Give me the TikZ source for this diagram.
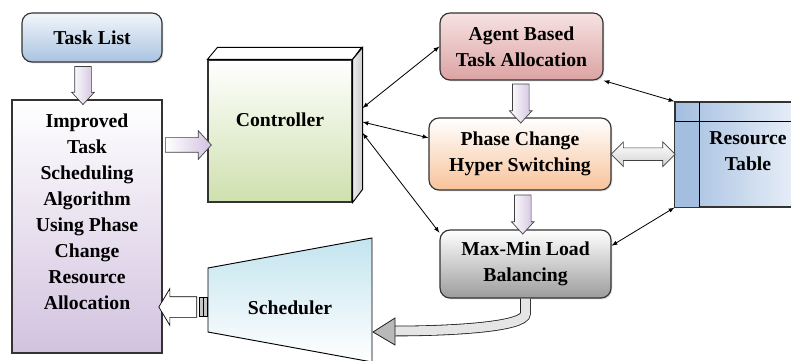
\documentclass[tikz,border=0pt]{standalone}
\usepackage{fontspec}
\setmainfont{Liberation Serif}
\usetikzlibrary{shapes.arrows,shadows,calc}
\definecolor{taskbot}{HTML}{A9C3E1}
\definecolor{lavender}{HTML}{D2C2DF}
\definecolor{ctrlbot}{HTML}{CFE0AE}
\definecolor{agenttop}{HTML}{F7E2E2}
\definecolor{agentbot}{HTML}{DCA3A3}
\definecolor{phasebot}{HTML}{F8C39A}
\definecolor{mmbot}{HTML}{9C9C9C}
\definecolor{schedtop}{HTML}{C3E4EF}
\definecolor{resleft}{HTML}{A3BEDF}
\definecolor{resright}{HTML}{E8EFF8}
\def\px{0.03cm}
\tikzset{
  lbl/.style={font=\bfseries\fontsize{16.8}{22.2}\selectfont, align=center, inner sep=0pt},
  blk/.style={lbl, draw=black!80, line width=1pt, drop shadow={opacity=0.25,shadow xshift=1.2pt,shadow yshift=-1.2pt}},
  rblk/.style={blk, rounded corners=10*\px},
  fat/.style={single arrow, draw=gray!50!black, line width=0.6pt, inner sep=0pt},
  fatlav/.style={fat, left color=white, right color=lavender},
  link/.style={<->, >=latex, line width=0.7pt},
  pipe/.style={double=gray!20, double distance=9*\px, line width=0.7pt, draw=gray!25!black}
}
\begin{document}
\begin{tikzpicture}[x=\px,y=\px]
  \useasboundingbox (0,0) rectangle (791,360);
  %% left column
  \node[rblk, top color=white!85!taskbot, bottom color=taskbot, minimum width=140*\px, minimum height=49*\px] (task) at (92,322.5) {Task List};
  \node[blk, top color=white, bottom color=lavender, minimum width=150*\px, minimum height=253*\px] (impr) at (87,133.5) {};
  \node[lbl] (imprtxt) at (87,148.5) {Improved\\Task\\Scheduling\\Algorithm\\Using Phase\\Change\\Resource\\Allocation};
  %% controller (3d box)
  \node[blk, top color=white, bottom color=ctrlbot, minimum width=144*\px, minimum height=142*\px] (ctrl) at (280,229) {};
  \draw[line width=0.8pt, fill=white] (ctrl.north west) -- ++(10,12) -- ++(144,0) -- (ctrl.north east) -- cycle;
  \draw[line width=0.8pt, left color=gray!15, right color=gray!40] (ctrl.north east) -- ++(10,12) -- ++(0,-142) -- (ctrl.south east) -- cycle;
  \node[lbl] (ctrltxt) at (280,240) {Controller};
  %% right column
  \node[rblk, top color=agenttop, bottom color=agentbot, minimum width=163*\px, minimum height=67*\px] (agent) at (521.5,313.5) {Agent Based\\Task Allocation};
  \node[rblk, top color=white, bottom color=phasebot, minimum width=182*\px, minimum height=72*\px] (phase) at (520,206) {Phase Change\\Hyper Switching};
  \node[rblk, top color=white, bottom color=mmbot, minimum width=171*\px, minimum height=68*\px] (maxmin) at (525.5,96) {Max-Min Load\\Balancing};
  %% resource table
  \node[draw=black!80, line width=1pt, inner sep=0pt, left color=resleft, right color=resright, minimum width=121*\px, minimum height=105*\px] (res) at (735.5,205.5) {};
  \fill[resleft] ([yshift=-20*\px]res.north west) rectangle ([xshift=25*\px]res.south west);
  \draw[line width=0.8pt] ([yshift=-20*\px]res.north west) -- ([yshift=-20*\px]res.north east)
    ([xshift=25*\px]res.north west) -- ([xshift=25*\px]res.south west);
  \draw[line width=1pt, black!80] (res.north west) rectangle (res.south east);
  \node[lbl] (restxt) at (748,208.5) {Resource\\Table};
  %% scheduler
  \draw[line width=0.8pt, top color=schedtop, bottom color=white] (208,92) -- (372,122) -- (372,-2) -- (208,28) -- cycle;
  \node[lbl] (sched) at (290,52) {Scheduler};
  \coordinate (schedin) at (208,53);
  \coordinate (schedtip) at (373,28);
  %% fat arrows
  \path ([xshift=-9*\px]task.south) -- node[fatlav, rotate=-90, minimum height=38*\px, inner ysep=8*\px, single arrow head extend=3*\px, single arrow tip angle=85] (a1) {} ([xshift=-4*\px]impr.north);
  \coordinate (a2end) at ([yshift=-14*\px]ctrl.west);
  \path (impr.east |- a2end) -- node[fatlav, minimum height=46*\px, inner ysep=7*\px, single arrow head extend=7*\px, single arrow tip angle=95] (a2) {} (a2end);
  \foreach \a/\b/\n in {agent.south/phase.north/a3, phase.south/maxmin.north/a4}
    \path (\a) -- node[fatlav, rotate=-90, minimum height=39*\px, inner ysep=8*\px, single arrow head extend=3*\px, single arrow tip angle=85] (\n) {} (\b);
  \path (phase.east) -- node[double arrow, draw=gray!50!black, line width=0.6pt, inner sep=0pt, top color=white, bottom color=gray!35, minimum height=64*\px, inner ysep=6*\px, double arrow head extend=6*\px, double arrow tip angle=90] (a5) {} (res.west);
  \node[draw, line width=0.6pt, fill=gray!45, minimum width=8*\px, minimum height=19*\px, inner sep=0pt, anchor=east] (tail) at (schedin) {};
  \draw[line width=0.5pt] (tail.north) -- (tail.south);
  \path (tail.west) -- node[fat, draw=black, fill=white, rotate=180, minimum height=38*\px, inner ysep=10*\px, single arrow head extend=8*\px, single arrow tip angle=118] (a6) {} (impr.east |- tail.west);
  %% max-min to scheduler
  \draw[pipe] (maxmin.south) -- ++(0,-15) .. controls +(0,-14) and +(50,0) .. ($(schedtip)+(22,1)$);
  \filldraw[fill=gray!55, draw=gray!25!black, line width=0.7pt] (schedtip) -- ++(22,14) -- ++(0,-27) -- cycle;
  %% links
  \foreach \dy/\dest in {23/agent.west, 9/phase.170, -2/maxmin.160}
    \draw[link] ([shift={(10,\dy)}]ctrl.east) -- (\dest);
  \draw[link] (agent.south east) -- (res.north west);
  \draw[link] (maxmin.12) -- (res.south west);
\end{tikzpicture}
\end{document}
